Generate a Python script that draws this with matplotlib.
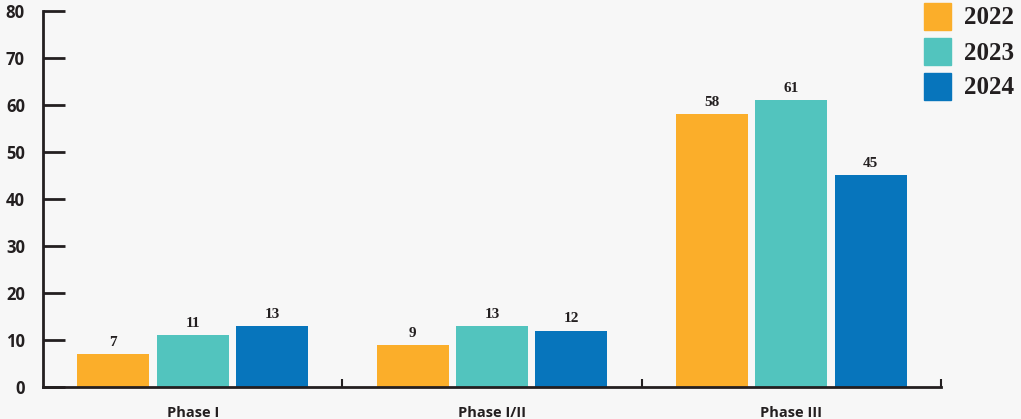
import matplotlib
matplotlib.use('Agg')
import matplotlib.pyplot as plt
import numpy as np

plt.rcParams['font.family'] = ['Open Sans', 'DejaVu Sans']

phases = ['Phase I', 'Phase I/II', 'Phase III']
years = ['2022', '2023', '2024']
v2022 = [7, 9, 58]
v2023 = [11, 13, 61]
v2024 = [13, 12, 45]
colors = ['#fbae2a', '#52c4be', '#0775bc']
ink = '#231f20'
bg = '#f7f7f7'

fig = plt.figure(figsize=(10.21, 4.19), dpi=100, facecolor=bg)
ax = fig.add_axes([43 / 1021, 1 - 387 / 419, (941 - 43) / 1021, 376 / 419])
ax.set_facecolor(bg)

x = np.arange(len(phases))
w = 0.24
step = 0.265
for i, (vals, yr) in enumerate(zip([v2022, v2023, v2024], years)):
    pos = x + (i - 1) * step
    bars = ax.bar(pos, vals, width=w, color=colors[i], label=yr, zorder=2)
    for b, v in zip(bars, vals):
        ax.text(b.get_x() + b.get_width() / 2, v + 1.1, str(v), ha='center', va='bottom',
                fontsize=11, fontweight='bold', color=ink, family=['Liberation Serif'])

ax.set_xlim(-0.5, 2.5)
ax.set_ylim(0, 80)
ax.set_yticks(range(0, 81, 10))
ax.tick_params(axis='y', direction='in', length=16, width=2, color=ink, labelsize=12,
               labelcolor=ink, pad=13)
for lab in ax.get_yticklabels():
    lab.set_fontweight('bold')
ax.set_xticks([0.5, 1.5, 2.5])
ax.set_xticklabels([])
ax.tick_params(axis='x', direction='in', length=6, width=1.5, color=ink)
for i, p in enumerate(phases):
    ax.text(x[i], -4.0, p, ha='center', va='top', fontsize=10.5, fontweight='bold', color=ink)

for s in ['top', 'right']:
    ax.spines[s].set_visible(False)
for s in ['left', 'bottom']:
    ax.spines[s].set_linewidth(2)
    ax.spines[s].set_color(ink)

# legend on the top right
for i, yr in enumerate(years):
    y0 = 1 - (3 + i * 35) / 419
    fig.patches.append(plt.Rectangle((924 / 1021, y0 - 27 / 419), 27 / 1021, 27 / 419,
                                     transform=fig.transFigure, color=colors[i]))
    fig.text(964 / 1021, y0 - 15 / 419, yr, ha='left', va='center', fontsize=18,
             fontweight='bold', color=ink, family=['Liberation Serif'])

fig.savefig('out.png', dpi=100, facecolor=bg)
